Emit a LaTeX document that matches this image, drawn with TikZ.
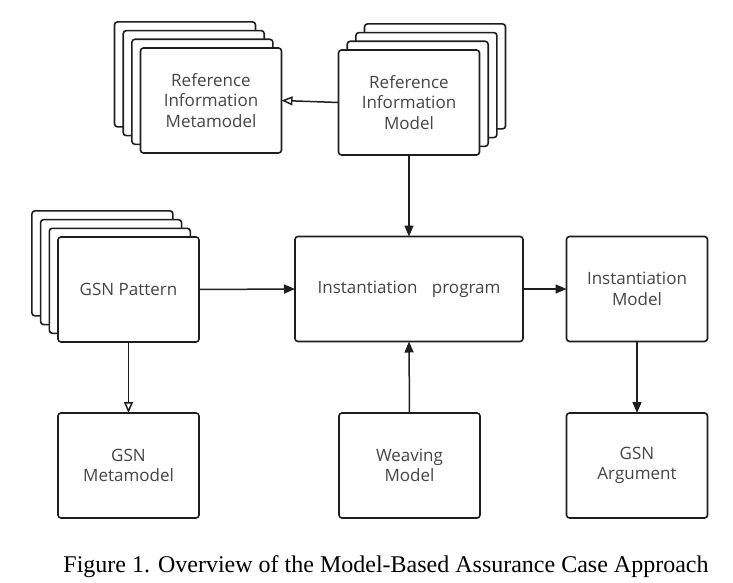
\documentclass[tikz,border=0pt]{standalone}
\usepackage{fontspec}
\setmainfont{Liberation Serif}
\newfontfamily\boxfont{Open Sans}
\usetikzlibrary{arrows.meta}
\definecolor{linecol}{HTML}{1E1E1E}
\definecolor{txtcol}{HTML}{454545}
\tikzset{
  box/.style={draw=linecol, line width=1.6pt, rounded corners=3pt, fill=white,
    minimum width=141pt, minimum height=105pt, inner sep=0pt, outer sep=0pt,
    align=center, text=txtcol, font=\boxfont\fontsize{17}{20.5}\selectfont},
  widebox/.style={box, minimum width=228pt},
  link/.style={draw=linecol, line width=1.5pt, -{Triangle[length=11pt,width=9pt]}},
  openlink/.style={draw=linecol, line width=1.5pt, -{Triangle[open,length=11pt,width=9pt]}}
}
\begin{document}
\begin{tikzpicture}[x=1pt,y=-1pt]
\useasboundingbox (0,0) rectangle (733,583);
% Reference Information Metamodel stack
\node[box] (rimeta3) at (185,74.4) {};
\node[box] (rimeta2) at (193.7,83.1) {};
\node[box] (rimeta1) at (202.4,91.8) {};
\node[box] (rimeta) at (211,100.5) {Reference\\Information\\Metamodel};
% Reference Information Model stack
\node[box] (rimodel3) at (435,76.4) {};
\node[box] (rimodel2) at (426.4,85.1) {};
\node[box] (rimodel1) at (417.7,93.8) {};
\node[box] (rimodel) at (409,102.5) {Reference\\Information\\Model};
% GSN Pattern stack
\node[box] (gsnp3) at (102.4,263.4) {};
\node[box] (gsnp2) at (111.1,272.1) {};
\node[box] (gsnp1) at (119.8,280.8) {};
\node[box] (gsnp) at (128.5,289.5) {GSN Pattern};
% other boxes
\node[widebox] (prog) at (409,289) {Instantiation\hspace{0.85em}program};
\node[box] (imodel) at (637,289) {Instantiation\\Model};
\node[box] (gsnmeta) at (128.5,465.5) {GSN\\Metamodel};
\node[box] (weave) at (409.5,465.5) {Weaving\\Model};
\node[box] (gsnarg) at (637,465.5) {GSN\\Argument};
% connectors
\draw[openlink] (rimodel.west) -- (rimeta.east);
\draw[link] (rimodel.south) -- (prog.north);
\draw[link] (gsnp.east) -- (prog.west);
\draw[openlink] (gsnp.south) -- (gsnmeta.north);
\draw[link] (prog.east) -- (imodel.west);
\draw[link] (weave.north) -- (prog.south);
\draw[link] (imodel.south) -- (gsnarg.north);
% caption
\node[font=\fontsize{24}{28}\selectfont, text=black, inner sep=0pt] (caption) at (386,567)
  {Figure 1. Overview of the Model-Based Assurance Case Approach};
\end{tikzpicture}
\end{document}
